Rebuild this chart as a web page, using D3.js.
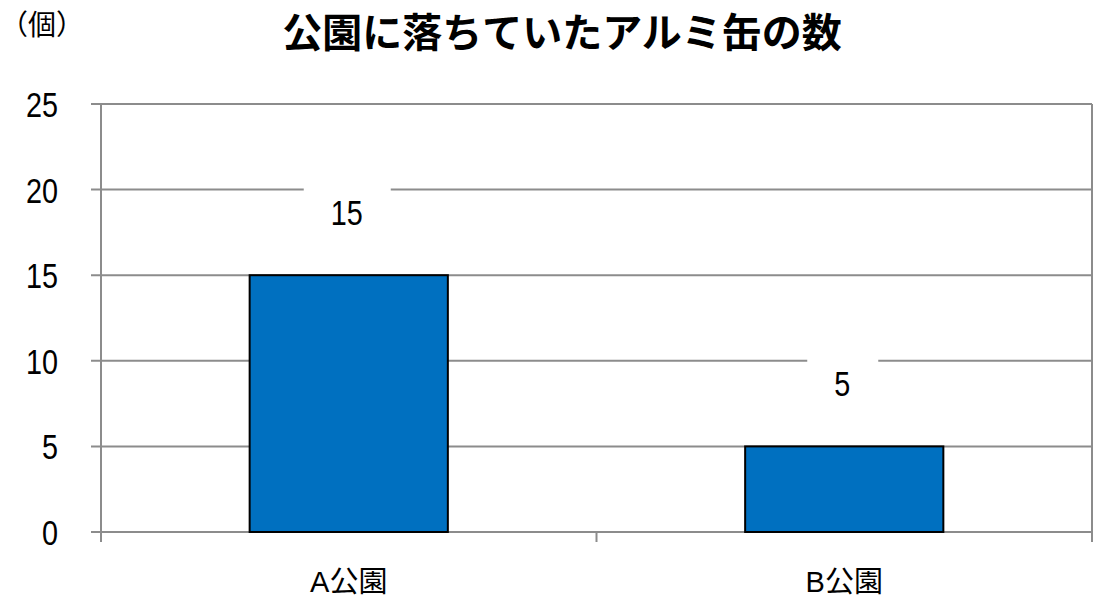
<!DOCTYPE html>
<html>
<head>
<meta charset="utf-8">
<script src="https://cdn.jsdelivr.net/npm/d3@7"></script>
<style>
  body { margin: 0; background: #fff; }
  svg text { font-family: "Liberation Sans", "Noto Sans CJK JP", sans-serif; }
</style>
</head>
<body>
<div id="content"></div>
<script>
// Screen dimensions
var w = 1108;
var h = 602;

// Data
var categories = ["A公園", "B公園"];
var values = [15, 5];
var yTicks = [0, 5, 10, 15, 20, 25];
var title = "公園に落ちていたアルミ缶の数";
var unitLabel = "（個）";

// Plot area (note: "top" is reserved on window, so use plot* names)
var plotLeft = 101, plotRight = 1092, plotTop = 104, plotBottom = 532;
var narrow = 0.8; // horizontal squeeze for the tall digits

var svg = d3.select("#content")
    .append("svg")
    .attr("width", w)
    .attr("height", h);

svg.append("rect")
   .attr("width", w)
   .attr("height", h)
   .attr("fill", "white");

var x = d3.scaleBand()
    .domain(categories)
    .range([plotLeft, plotRight])
    .paddingInner(0.6)
    .paddingOuter(0.3);

var y = d3.scaleLinear()
    .domain([0, 25])
    .range([plotBottom, plotTop]);

var grid = "#8c8c8c";

// Horizontal gridlines
svg.append("g")
   .selectAll("line")
   .data(yTicks)
   .enter()
   .append("line")
   .attr("x1", plotLeft - 10)
   .attr("x2", plotRight)
   .attr("y1", function(d) { return y(d); })
   .attr("y2", function(d) { return y(d); })
   .attr("stroke", grid)
   .attr("stroke-width", 2);

// Vertical axis + right border
svg.append("line")
   .attr("x1", plotLeft).attr("x2", plotLeft)
   .attr("y1", plotTop).attr("y2", plotBottom + 10)
   .attr("stroke", grid).attr("stroke-width", 2);
svg.append("line")
   .attr("x1", plotRight).attr("x2", plotRight)
   .attr("y1", plotTop).attr("y2", plotBottom + 10)
   .attr("stroke", grid).attr("stroke-width", 2);
// Middle category tick
svg.append("line")
   .attr("x1", (plotLeft + plotRight) / 2).attr("x2", (plotLeft + plotRight) / 2)
   .attr("y1", plotBottom).attr("y2", plotBottom + 10)
   .attr("stroke", grid).attr("stroke-width", 2);

// Y tick labels
svg.append("g")
   .selectAll("text")
   .data(yTicks)
   .enter()
   .append("text")
   .attr("transform", function(d) {
       return "translate(58," + y(d) + ") scale(" + narrow + ",1)";
   })
   .attr("dy", "0.36em")
   .attr("text-anchor", "end")
   .attr("font-size", 36)
   .attr("fill", "#000")
   .text(function(d) { return d; });

// Bars
svg.append("g")
   .selectAll("rect")
   .data(values)
   .enter()
   .append("rect")
   .attr("x", function(d, i) { return x(categories[i]); })
   .attr("y", function(d) { return y(d); })
   .attr("width", x.bandwidth())
   .attr("height", function(d) { return y(0) - y(d); })
   .attr("fill", "#0070c0")
   .attr("stroke", "#000")
   .attr("stroke-width", 2);

// Data labels with white boxes
var labels = svg.append("g")
   .selectAll("g")
   .data(values)
   .enter()
   .append("g")
   .attr("transform", function(d, i) {
       return "translate(" + (x(categories[i]) + x.bandwidth() / 2 - 2) + "," + (y(d) - 63) + ")";
   });
labels.append("rect")
   .attr("x", function(d) { return String(d).length > 1 ? -43 : -35; })
   .attr("width", function(d) { return String(d).length > 1 ? 87 : 71; })
   .attr("y", -32)
   .attr("height", 58)
   .attr("fill", "white");
labels.append("text")
   .attr("transform", "scale(" + narrow + ",1)")
   .attr("text-anchor", "middle")
   .attr("dy", "0.36em")
   .attr("font-size", 36)
   .attr("fill", "#000")
   .text(function(d) { return d; });

// Category labels
svg.append("g")
   .selectAll("text")
   .data(categories)
   .enter()
   .append("text")
   .attr("x", function(d) { return x(d) + x.bandwidth() / 2; })
   .attr("y", 582)
   .attr("dy", "0.36em")
   .attr("text-anchor", "middle")
   .attr("font-size", 29)
   .attr("fill", "#000")
   .text(function(d) { return d; });

// Title
svg.append("text")
   .attr("x", 562)
   .attr("y", 33)
   .attr("dy", "0.36em")
   .attr("text-anchor", "middle")
   .attr("font-size", 40)
   .attr("font-weight", "bold")
   .style("font-family", "'Noto Sans CJK JP', sans-serif")
   .attr("fill", "#000")
   .text(title);

// Unit label
svg.append("text")
   .attr("x", 0)
   .attr("y", 25)
   .attr("dy", "0.36em")
   .attr("font-size", 28)
   .style("font-family", "'Noto Sans CJK JP', sans-serif")
   .attr("fill", "#000")
   .text(unitLabel);
</script>
</body>
</html>
